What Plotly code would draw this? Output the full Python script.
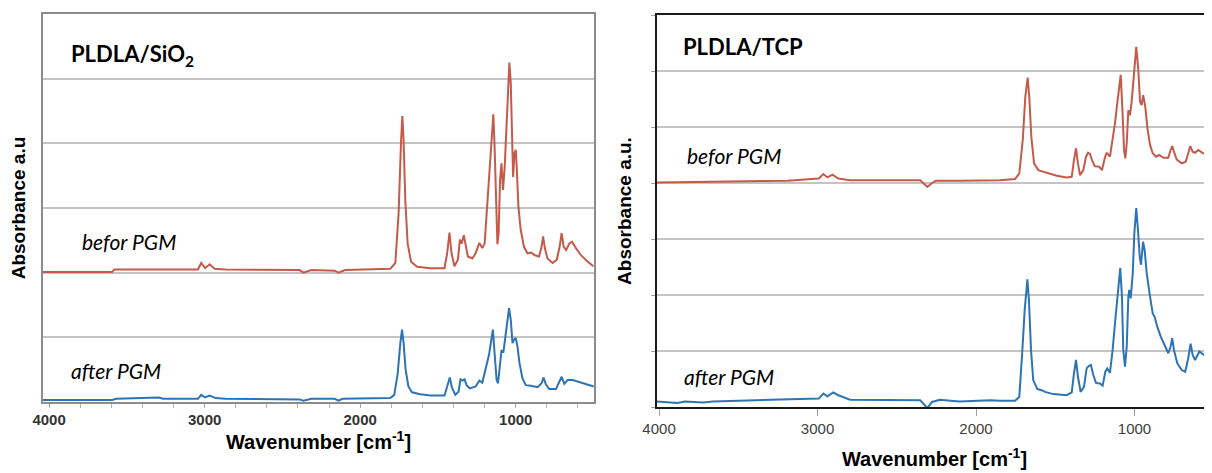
import plotly.graph_objects as go

# ---------------- data ----------------
# Left panel: PLDLA/SiO2 (stacked, "befor PGM" offset read as-is)
sio2_before_wn = [4039, 3595, 3581, 3043, 3022, 2997, 2968, 2936, 2866, 2390, 2365, 2314, 2164, 2139, 2097,
                  1963, 1871, 1807, 1774, 1753, 1737, 1729, 1721, 1710, 1695, 1673, 1634, 1548, 1458, 1441,
                  1426, 1413, 1394, 1372, 1359, 1348, 1334, 1321, 1308, 1279, 1258, 1234, 1215, 1200, 1183,
                  1166, 1155, 1144, 1136, 1127, 1118, 1110, 1101, 1092, 1082, 1071, 1060, 1050, 1041, 1032,
                  1024, 1017, 1008, 1000, 994, 983, 968, 947, 925, 903, 877, 850, 834, 824, 813, 796, 763,
                  736, 718, 705, 692, 676, 656, 639, 613, 581, 537, 501]
sio2_before_abs = [2.01, 2.01, 2.05, 2.05, 2.15, 2.07, 2.13, 2.06, 2.05, 2.04, 2.00, 2.04, 2.03, 2.00, 2.04,
                   2.05, 2.06, 2.06, 2.15, 2.92, 4.05, 4.42, 4.05, 3.12, 2.45, 2.17, 2.09, 2.07, 2.07, 2.30,
                   2.62, 2.30, 2.10, 2.20, 2.51, 2.45, 2.58, 2.40, 2.25, 2.22, 2.30, 2.46, 2.38, 2.45, 3.07,
                   3.54, 4.05, 4.45, 3.95, 2.92, 2.44, 2.61, 3.43, 3.69, 3.28, 3.64, 4.31, 4.98, 5.25, 4.93,
                   4.05, 3.48, 3.85, 3.90, 3.64, 3.02, 2.66, 2.40, 2.30, 2.31, 2.27, 2.25, 2.40, 2.56, 2.38,
                   2.22, 2.15, 2.20, 2.40, 2.61, 2.40, 2.35, 2.45, 2.48, 2.38, 2.27, 2.17, 2.10]

sio2_after_wn = [4039, 3595, 3568, 3343, 3294, 3268, 3043, 3022, 2997, 2968, 2929, 2866, 2390, 2365, 2314,
                 2164, 2139, 2114, 1837, 1807, 1781, 1759, 1742, 1731, 1721, 1708, 1690, 1667, 1613, 1548,
                 1458, 1441, 1424, 1411, 1389, 1368, 1355, 1342, 1329, 1316, 1295, 1258, 1234, 1215, 1194,
                 1172, 1157, 1147, 1136, 1123, 1114, 1103, 1092, 1079, 1067, 1054, 1043, 1032, 1021, 1011,
                 1000, 989, 976, 957, 936, 903, 860, 834, 821, 808, 785, 742, 718, 705, 688, 667, 634, 581,
                 537, 499]
sio2_after_abs = [0.03, 0.03, 0.05, 0.07, 0.07, 0.05, 0.05, 0.11, 0.07, 0.10, 0.06, 0.05, 0.04, 0.02, 0.05,
                  0.05, 0.02, 0.05, 0.06, 0.06, 0.11, 0.44, 0.91, 1.12, 0.91, 0.50, 0.24, 0.15, 0.12, 0.10,
                  0.10, 0.25, 0.38, 0.23, 0.11, 0.16, 0.35, 0.33, 0.35, 0.26, 0.21, 0.24, 0.33, 0.30, 0.50,
                  0.73, 0.96, 1.12, 0.75, 0.34, 0.29, 0.60, 0.79, 0.78, 1.01, 1.32, 1.45, 1.27, 0.91, 0.96,
                  0.99, 0.86, 0.60, 0.37, 0.26, 0.25, 0.23, 0.29, 0.38, 0.28, 0.20, 0.20, 0.31, 0.39, 0.28,
                  0.34, 0.34, 0.30, 0.26, 0.24]

# Right panel: PLDLA/TCP
tcp_before_wn = [4013, 3653, 3189, 2992, 2963, 2938, 2906, 2869, 2795, 2352, 2307, 2278, 2253, 2105, 1908,
                 1849, 1754, 1727, 1705, 1689, 1674, 1664, 1651, 1634, 1607, 1554, 1491, 1428, 1396, 1382,
                 1369, 1357, 1344, 1323, 1306, 1293, 1281, 1268, 1251, 1222, 1205, 1188, 1176, 1155, 1138,
                 1123, 1109, 1087, 1077, 1066, 1058, 1049, 1039, 1029, 1018, 1003, 989, 976, 965, 955, 945,
                 932, 917, 902, 885, 864, 844, 818, 787, 772, 762, 751, 734, 702, 677, 661, 648, 633, 618,
                 598, 566, 535, 511]
tcp_before_abs = [4.01, 4.02, 4.04, 4.08, 4.16, 4.10, 4.15, 4.08, 4.05, 4.05, 3.93, 4.00, 4.04, 4.04, 4.05,
                  4.05, 4.07, 4.17, 4.77, 5.54, 5.88, 5.54, 4.83, 4.35, 4.23, 4.18, 4.13, 4.10, 4.11, 4.41,
                  4.62, 4.35, 4.14, 4.23, 4.47, 4.54, 4.52, 4.41, 4.30, 4.29, 4.23, 4.44, 4.54, 4.47, 4.77,
                  5.07, 5.42, 5.93, 5.36, 4.59, 4.44, 4.71, 5.30, 5.21, 5.45, 6.02, 6.43, 6.02, 5.45, 5.39,
                  5.57, 5.36, 4.95, 4.68, 4.53, 4.47, 4.50, 4.45, 4.45, 4.59, 4.66, 4.56, 4.42, 4.35, 4.38,
                  4.53, 4.66, 4.56, 4.54, 4.59, 4.53, 4.49, 4.45]

tcp_after_wn = [4013, 3886, 3836, 3722, 3659, 3522, 3387, 2992, 2963, 2938, 2901, 2869, 2795, 2352, 2307,
                2278, 2228, 2105, 1908, 1849, 1754, 1727, 1710, 1693, 1676, 1666, 1653, 1639, 1613, 1586,
                1565, 1512, 1428, 1396, 1382, 1369, 1357, 1340, 1319, 1302, 1289, 1275, 1260, 1243, 1218,
                1201, 1184, 1172, 1155, 1138, 1123, 1109, 1090, 1079, 1071, 1060, 1049, 1039, 1033, 1024,
                1011, 1001, 989, 978, 967, 959, 946, 936, 923, 902, 885, 873, 856, 835, 808, 787, 772, 762,
                751, 730, 702, 680, 661, 646, 633, 618, 591, 566, 535, 517, 511]
tcp_after_abs = [0.10, 0.07, 0.10, 0.08, 0.10, 0.11, 0.13, 0.15, 0.24, 0.19, 0.26, 0.21, 0.13, 0.12, -0.02,
                 0.09, 0.13, 0.10, 0.12, 0.11, 0.11, 0.18, 0.90, 1.73, 2.28, 1.91, 1.02, 0.48, 0.32, 0.30,
                 0.27, 0.23, 0.21, 0.26, 0.60, 0.84, 0.54, 0.27, 0.36, 0.69, 0.73, 0.75, 0.57, 0.43, 0.42,
                 0.38, 0.63, 0.69, 0.61, 1.02, 1.50, 1.91, 2.48, 1.97, 1.02, 0.72, 1.08, 1.97, 2.09, 1.94,
                 2.39, 3.10, 3.55, 3.16, 2.68, 2.54, 2.95, 2.80, 2.39, 1.97, 1.67, 1.61, 1.43, 1.26, 1.08,
                 0.96, 1.08, 1.23, 1.02, 0.78, 0.66, 0.63, 0.87, 1.13, 0.93, 0.84, 0.99, 0.93, 0.87, 0.84,
                 1.38]

x_tick_vals = [4000, 3000, 2000, 1000]
x_tick_text = ["4000", "3000", "2000", "1000"]

RED = "#C55A4A"
BLUE = "#2E74B5"

fig = go.Figure()
fig.add_trace(go.Scatter(x=sio2_before_wn, y=sio2_before_abs, mode="lines",
                         line=dict(color=RED, width=2), xaxis="x", yaxis="y", showlegend=False))
fig.add_trace(go.Scatter(x=sio2_after_wn, y=sio2_after_abs, mode="lines",
                         line=dict(color=BLUE, width=2), xaxis="x", yaxis="y", showlegend=False))
fig.add_trace(go.Scatter(x=tcp_before_wn, y=tcp_before_abs, mode="lines",
                         line=dict(color=RED, width=2), xaxis="x2", yaxis="y2", showlegend=False))
fig.add_trace(go.Scatter(x=tcp_after_wn, y=tcp_after_abs, mode="lines",
                         line=dict(color=BLUE, width=2), xaxis="x2", yaxis="y2", showlegend=False))

# page body has an 8px margin, so the figure is drawn 8px in from the window corner
OFF = 8
W, H = 1212 - OFF, 473 - OFF
def px(x):
    return (x - OFF) / W
def py(y):
    return (H - (y - OFF)) / H

axis_title_font = dict(family="Liberation Sans, Arial", size=20, color="#000000")
ytitle_font = dict(family="Liberation Sans, Arial", size=19, color="#000000")
tick_font_left = dict(family="Liberation Sans, Arial", size=15, color="#333333", weight="bold")
tick_font_right = dict(family="Liberation Sans, Arial", size=15, color="#404040")

fig.update_layout(
    width=W, height=H,
    margin=dict(l=0, r=0, t=0, b=0, autoexpand=False),
    paper_bgcolor="white", plot_bgcolor="white",
    xaxis=dict(domain=[px(43), px(594)], range=[4039, 497], anchor="y", automargin=False,
               tickvals=x_tick_vals, ticktext=x_tick_text, tickfont=tick_font_left,
               showgrid=False, zeroline=False,
               showline=True, mirror=True, linecolor="#8c8c8c", linewidth=1.5,
               ticks="outside", ticklen=3, tickcolor="#a0a0a0",
               minor=dict(dtick=200, ticks="outside", ticklen=4, tickcolor="#b0b0b0"),
               title=dict(text="<b>Wavenumber [cm<sup>-1</sup>]</b>", font=axis_title_font, standoff=6)),
    yaxis=dict(domain=[py(402), py(14)], range=[0, 6], anchor="x", automargin=False,
               dtick=1, showticklabels=False, showgrid=True, gridcolor="#c4c4c4", gridwidth=1.5,
               zeroline=False, showline=True, mirror=True, linecolor="#8c8c8c", linewidth=1.5,
               title=dict(text="<b>Absorbance a.u</b>", font=ytitle_font, standoff=14)),
    xaxis2=dict(domain=[px(657), 1.0], range=[4013, 511], anchor="y2", automargin=False,
                tickvals=x_tick_vals, ticktext=x_tick_text, tickfont=tick_font_right,
                showgrid=False, zeroline=False,
                showline=True, mirror=True, linecolor="#1a1a1a", linewidth=2,
                ticks="outside", ticklen=7, tickcolor="#a0a0a0",
                title=dict(text="<b>Wavenumber [cm<sup>-1</sup>]</b>", font=axis_title_font, standoff=16)),
    yaxis2=dict(domain=[py(407), py(15)], range=[0, 7], anchor="x2", automargin=False,
                dtick=1, showticklabels=False, showgrid=True, gridcolor="#c4c4c4", gridwidth=1.5,
                zeroline=False, showline=True, mirror=False, linecolor="#1a1a1a", linewidth=2,
                ticks="outside", ticklen=4, tickcolor="#a0a0a0",
                title=dict(text="<b>Absorbance a.u.</b>", font=ytitle_font, standoff=14)),
)

label_font_bold = dict(family="Lato, Open Sans, sans-serif", size=22, color="#000000")
label_font_it = dict(family="Lato, Open Sans, sans-serif", size=21, color="#000000")
annots = [
    (69, 55, "<b>PLDLA/SiO<sub>2</sub></b>", label_font_bold),
    (80, 242, "<i>befor PGM</i>", label_font_it),
    (69, 370, "<i>after PGM</i>", label_font_it),
    (681, 47, "<b>PLDLA/TCP</b>", label_font_bold),
    (685, 155, "<i>befor PGM</i>", label_font_it),
    (682, 376, "<i>after PGM</i>", label_font_it),
]
for x, y, t, f in annots:
    fig.add_annotation(x=px(x), y=py(y), xref="paper", yref="paper", text=t, showarrow=False,
                       xanchor="left", yanchor="middle", font=f)

fig.write_html("out.html")
